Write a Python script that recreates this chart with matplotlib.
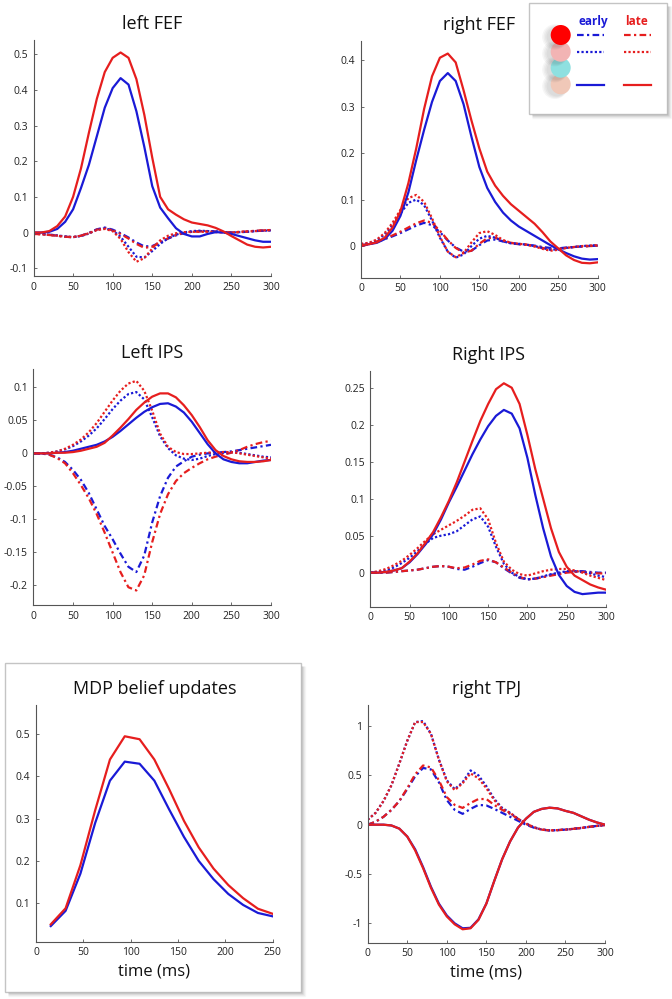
import numpy as np
import matplotlib
matplotlib.use("Agg")
import matplotlib.pyplot as plt
from matplotlib.patches import Circle, Rectangle
from matplotlib.ticker import FuncFormatter

plt.rcParams['font.family'] = ['Open Sans', 'DejaVu Sans']

BLUE = '#1a1ad6'
RED = '#e61e1e'

# ---------------- data ----------------
t = np.arange(0, 301, 10)

# left FEF
lf_early_solid = [0, 0, 0.002, 0.01, 0.03, 0.065, 0.125, 0.19, 0.27, 0.35, 0.405, 0.433, 0.415, 0.34, 0.24, 0.13,
                  0.07, 0.04, 0.012, -0.004, -0.011, -0.011, -0.004, 0.001, 0.0, -0.004, -0.01, -0.016, -0.022, -0.026, -0.026]
lf_late_solid = [0, 0, 0.004, 0.018, 0.045, 0.1, 0.18, 0.28, 0.375, 0.45, 0.49, 0.505, 0.49, 0.43, 0.33, 0.21,
                 0.1, 0.065, 0.05, 0.037, 0.028, 0.024, 0.02, 0.013, 0.003, -0.01, -0.022, -0.034, -0.04, -0.042, -0.04]
lf_early_dot = [-0.003, -0.004, -0.006, -0.008, -0.011, -0.013, -0.01, -0.003, 0.008, 0.012, 0.006, -0.012, -0.04, -0.068, -0.07, -0.052,
                -0.032, -0.016, -0.006, 0.0, 0.004, 0.005, 0.004, 0.003, 0.001, 0.0, 0.001, 0.002, 0.004, 0.005, 0.006]
lf_late_dot = [-0.004, -0.005, -0.007, -0.009, -0.012, -0.013, -0.009, -0.002, 0.007, 0.01, 0.004, -0.018, -0.055, -0.082, -0.072, -0.045,
               -0.022, -0.009, -0.002, 0.001, 0.002, 0.002, 0.002, 0.001, 0.0, 0.0, 0.002, 0.003, 0.004, 0.006, 0.007]
lf_early_dd = [-0.003, -0.004, -0.006, -0.009, -0.012, -0.013, -0.009, -0.001, 0.009, 0.014, 0.008, -0.002, -0.014, -0.028, -0.039, -0.038,
               -0.028, -0.017, -0.008, -0.002, 0.002, 0.004, 0.004, 0.003, 0.001, 0.0, 0.001, 0.002, 0.004, 0.005, 0.006]
lf_late_dd = [-0.004, -0.005, -0.007, -0.009, -0.012, -0.013, -0.009, -0.002, 0.008, 0.012, 0.006, -0.004, -0.017, -0.032, -0.043, -0.04,
              -0.028, -0.016, -0.007, -0.001, 0.002, 0.003, 0.003, 0.002, 0.001, 0.0, 0.001, 0.003, 0.005, 0.006, 0.007]

# right FEF
rf_early_solid = [0.002, 0.004, 0.007, 0.015, 0.033, 0.065, 0.115, 0.185, 0.25, 0.31, 0.355, 0.372, 0.355, 0.305, 0.235, 0.17,
                  0.125, 0.095, 0.072, 0.055, 0.042, 0.032, 0.022, 0.012, 0.002, -0.007, -0.015, -0.022, -0.027, -0.029, -0.028]
rf_late_solid = [0.002, 0.004, 0.008, 0.018, 0.04, 0.075, 0.135, 0.21, 0.295, 0.365, 0.405, 0.414, 0.395, 0.335, 0.27, 0.21,
                 0.16, 0.13, 0.108, 0.09, 0.076, 0.062, 0.048, 0.03, 0.01, -0.005, -0.02, -0.03, -0.036, -0.037, -0.035]
rf_early_dot = [0.004, 0.006, 0.012, 0.025, 0.045, 0.07, 0.093, 0.1, 0.088, 0.055, 0.018, -0.012, -0.025, -0.018, 0.0, 0.016,
                0.022, 0.018, 0.01, 0.006, 0.005, 0.003, 0.0, -0.004, -0.008, -0.007, -0.004, -0.002, 0.0, 0.001, 0.002]
rf_late_dot = [0.005, 0.007, 0.014, 0.028, 0.05, 0.078, 0.103, 0.11, 0.095, 0.06, 0.02, -0.012, -0.024, -0.015, 0.008, 0.028,
               0.032, 0.024, 0.013, 0.007, 0.005, 0.003, -0.001, -0.006, -0.01, -0.008, -0.004, -0.002, 0.0, 0.001, 0.002]
rf_early_dd = [0.0, 0.004, 0.009, 0.015, 0.021, 0.028, 0.036, 0.044, 0.05, 0.045, 0.03, 0.012, -0.003, -0.012, -0.01, 0.002,
               0.012, 0.014, 0.01, 0.006, 0.004, 0.003, 0.001, -0.002, -0.004, -0.005, -0.003, -0.002, -0.001, 0.0, 0.001]
rf_late_dd = [0.0, 0.004, 0.01, 0.016, 0.023, 0.031, 0.04, 0.049, 0.055, 0.05, 0.033, 0.013, -0.004, -0.014, -0.01, 0.005,
              0.017, 0.018, 0.012, 0.007, 0.004, 0.003, 0.0, -0.004, -0.007, -0.006, -0.004, -0.002, -0.001, 0.0, 0.001]

# left IPS
li_early_solid = [0, 0, 0.0, 0.001, 0.002, 0.004, 0.007, 0.01, 0.013, 0.018, 0.025, 0.034, 0.044, 0.054, 0.063, 0.07,
                  0.075, 0.076, 0.071, 0.062, 0.048, 0.031, 0.014, 0.0, -0.009, -0.013, -0.015, -0.015, -0.013, -0.011, -0.01]
li_late_solid = [0, 0, 0.0, 0.001, 0.001, 0.002, 0.004, 0.007, 0.01, 0.016, 0.027, 0.039, 0.052, 0.066, 0.077, 0.086,
                 0.091, 0.091, 0.085, 0.073, 0.058, 0.04, 0.02, 0.005, -0.004, -0.009, -0.012, -0.013, -0.013, -0.012, -0.01]
li_early_dot = [0, 0, 0.001, 0.003, 0.006, 0.011, 0.018, 0.027, 0.038, 0.052, 0.067, 0.08, 0.09, 0.093, 0.082, 0.055,
                0.026, 0.008, -0.003, -0.008, -0.01, -0.008, -0.004, -0.001, 0.001, 0.002, 0.001, -0.001, -0.003, -0.005, -0.006]
li_late_dot = [0, 0, 0.001, 0.003, 0.007, 0.013, 0.021, 0.032, 0.046, 0.063, 0.08, 0.095, 0.106, 0.11, 0.095, 0.065,
               0.03, 0.01, 0.002, -0.001, -0.001, 0.0, 0.001, 0.002, 0.002, 0.002, 0.0, -0.002, -0.004, -0.006, -0.008]
li_early_dd = [0, 0, -0.002, -0.006, -0.013, -0.025, -0.04, -0.06, -0.085, -0.11, -0.13, -0.152, -0.172, -0.18, -0.155, -0.105,
               -0.065, -0.037, -0.02, -0.012, -0.005, -0.002, 0.0, 0.001, 0.002, 0.003, 0.005, 0.007, 0.009, 0.011, 0.013]
li_late_dd = [0, 0, -0.002, -0.007, -0.015, -0.03, -0.048, -0.068, -0.092, -0.12, -0.15, -0.18, -0.203, -0.208, -0.185, -0.135,
              -0.092, -0.062, -0.042, -0.03, -0.022, -0.015, -0.009, -0.005, -0.002, 0.001, 0.005, 0.01, 0.014, 0.017, 0.019]

# right IPS
ri_early_solid = [0, 0, 0.001, 0.003, 0.006, 0.014, 0.025, 0.038, 0.052, 0.072, 0.095, 0.116, 0.138, 0.16, 0.18, 0.198,
                  0.212, 0.22, 0.215, 0.195, 0.155, 0.105, 0.06, 0.022, -0.003, -0.018, -0.026, -0.029, -0.028, -0.027, -0.027]
ri_late_solid = [0, 0, 0.001, 0.003, 0.006, 0.015, 0.026, 0.04, 0.055, 0.075, 0.097, 0.122, 0.15, 0.178, 0.205, 0.228,
                 0.248, 0.256, 0.25, 0.228, 0.186, 0.14, 0.1, 0.06, 0.028, 0.008, -0.004, -0.01, -0.016, -0.02, -0.023]
ri_early_dot = [0.0, 0.001, 0.003, 0.007, 0.013, 0.02, 0.029, 0.039, 0.047, 0.05, 0.052, 0.056, 0.064, 0.072, 0.076, 0.062,
                0.035, 0.012, 0.0, -0.006, -0.009, -0.008, -0.005, -0.002, 0.0, 0.002, 0.002, 0.001, -0.001, -0.004, -0.006]
ri_late_dot = [0.0, 0.002, 0.005, 0.01, 0.016, 0.024, 0.033, 0.043, 0.052, 0.058, 0.064, 0.07, 0.077, 0.085, 0.087, 0.072,
               0.04, 0.015, 0.004, -0.002, -0.004, -0.001, 0.002, 0.004, 0.005, 0.005, 0.003, 0.0, -0.004, -0.007, -0.01]
ri_early_dd = [0.0, 0.0, 0.0, 0.001, 0.002, 0.003, 0.004, 0.006, 0.008, 0.009, 0.008, 0.005, 0.004, 0.008, 0.013, 0.017,
               0.014, 0.006, -0.001, -0.007, -0.009, -0.008, -0.006, -0.003, -0.001, 0.001, 0.002, 0.002, 0.001, 0.0, 0.0]
ri_late_dd = [0.0, 0.0, 0.0, 0.001, 0.002, 0.003, 0.004, 0.006, 0.008, 0.009, 0.008, 0.006, 0.007, 0.011, 0.016, 0.018,
              0.014, 0.007, 0.0, -0.006, -0.009, -0.008, -0.006, -0.004, -0.002, 0.0, 0.001, 0.001, 0.0, -0.001, -0.001]

# right TPJ
tpj_early_solid = [0, 0, 0, -0.008, -0.04, -0.12, -0.25, -0.43, -0.63, -0.8, -0.92, -1.0, -1.05, -1.045, -0.96, -0.8,
                   -0.57, -0.35, -0.17, -0.03, 0.06, 0.13, 0.16, 0.172, 0.165, 0.14, 0.12, 0.085, 0.05, 0.022, 0.0]
tpj_late_solid = [0, 0, 0, -0.008, -0.04, -0.12, -0.26, -0.44, -0.64, -0.81, -0.93, -1.01, -1.06, -1.05, -0.965, -0.8,
                  -0.57, -0.35, -0.17, -0.03, 0.06, 0.13, 0.16, 0.172, 0.165, 0.14, 0.12, 0.085, 0.05, 0.022, 0.0]
tpj_early_dot = [0.05, 0.12, 0.24, 0.4, 0.62, 0.85, 1.04, 1.05, 0.92, 0.66, 0.45, 0.36, 0.43, 0.55, 0.5, 0.39,
                 0.26, 0.17, 0.12, 0.06, 0.01, -0.025, -0.05, -0.058, -0.055, -0.05, -0.042, -0.033, -0.022, -0.012, -0.005]
tpj_late_dot = [0.05, 0.12, 0.24, 0.4, 0.62, 0.85, 1.04, 1.04, 0.92, 0.66, 0.44, 0.35, 0.42, 0.52, 0.47, 0.37,
                0.25, 0.16, 0.12, 0.06, 0.01, -0.025, -0.05, -0.058, -0.055, -0.05, -0.042, -0.033, -0.022, -0.012, -0.005]
tpj_early_dd = [0.0, 0.03, 0.08, 0.15, 0.24, 0.36, 0.49, 0.575, 0.56, 0.43, 0.25, 0.15, 0.11, 0.16, 0.2, 0.195,
                0.16, 0.12, 0.08, 0.04, 0.0, -0.03, -0.05, -0.058, -0.055, -0.05, -0.042, -0.033, -0.022, -0.012, -0.005]
tpj_late_dd = [0.0, 0.03, 0.08, 0.15, 0.24, 0.37, 0.51, 0.6, 0.58, 0.45, 0.28, 0.2, 0.17, 0.22, 0.26, 0.26,
               0.2, 0.15, 0.11, 0.06, 0.015, -0.03, -0.05, -0.058, -0.055, -0.05, -0.042, -0.033, -0.022, -0.012, -0.005]

# MDP belief updates
t_mdp = [15.6, 31.25, 46.9, 62.5, 78.1, 93.75, 109.4, 125, 140.6, 156.25, 171.9, 187.5, 203.1, 218.75, 234.4, 250]
mdp_early = [0.046, 0.082, 0.17, 0.29, 0.39, 0.435, 0.43, 0.39, 0.322, 0.257, 0.2, 0.157, 0.122, 0.096, 0.077, 0.069]
mdp_late = [0.05, 0.088, 0.19, 0.32, 0.44, 0.495, 0.488, 0.44, 0.37, 0.295, 0.232, 0.182, 0.143, 0.112, 0.087, 0.075]

# ---------------- figure ----------------
W, H = 672, 999
fig = plt.figure(figsize=(W / 100, H / 100), dpi=100)

DOT = (0, (1, 1))
DASHDOT = (0, (3, 1.5, 1, 1.5))
LW = 1.6


def px_axes(l, r, top, bottom):
    return fig.add_axes([l / W, 1 - bottom / H, (r - l) / W, (bottom - top) / H])


def style(ax, title, xlim, ylim, yticks, xticks, xlabel=None):
    ax.set_xlim(*xlim)
    ax.set_ylim(*ylim)
    ax.set_yticks(yticks)
    ax.set_xticks(xticks)
    fmt = FuncFormatter(lambda v, p: f"{round(v, 4):g}")
    ax.yaxis.set_major_formatter(fmt)
    ax.xaxis.set_major_formatter(fmt)
    for s in ['top', 'right']:
        ax.spines[s].set_visible(False)
    for s in ['left', 'bottom']:
        ax.spines[s].set_color('#555555')
        ax.spines[s].set_linewidth(0.8)
    ax.tick_params(direction='in', length=2, width=0.6, color='#555555',
                   labelsize=7.5, labelcolor='#222222', pad=4)
    ax.set_title(title, fontsize=13, pad=8, color='#111111')
    if xlabel:
        ax.set_xlabel(xlabel, fontsize=12, labelpad=4, color='#111111')
    ax.patch.set_alpha(0)


def six(ax, es, ls, ed, ld, edd, ldd):
    kw = dict(lw=LW, solid_joinstyle='round', dash_joinstyle='round')
    ax.plot(t, edd, color=BLUE, ls=DASHDOT, **kw)
    ax.plot(t, ldd, color=RED, ls=DASHDOT, **kw)
    ax.plot(t, ed, color=BLUE, ls=DOT, **kw)
    ax.plot(t, ld, color=RED, ls=DOT, **kw)
    ax.plot(t, es, color=BLUE, **kw)
    ax.plot(t, ls, color=RED, **kw)


xt = [0, 50, 100, 150, 200, 250, 300]

ax1 = px_axes(33.5, 271, 40, 276)
six(ax1, lf_early_solid, lf_late_solid, lf_early_dot, lf_late_dot, lf_early_dd, lf_late_dd)
style(ax1, 'left FEF', (0, 300), (-0.122, 0.54), [-0.1, 0, 0.1, 0.2, 0.3, 0.4, 0.5], xt)

ax2 = px_axes(361, 597.7, 41, 277.7)
six(ax2, rf_early_solid, rf_late_solid, rf_early_dot, rf_late_dot, rf_early_dd, rf_late_dd)
style(ax2, 'right FEF', (0, 300), (-0.068, 0.441), [0, 0.1, 0.2, 0.3, 0.4], xt)

ax3 = px_axes(33.3, 271, 369, 605)
six(ax3, li_early_solid, li_late_solid, li_early_dot, li_late_dot, li_early_dd, li_late_dd)
style(ax3, 'Left IPS', (0, 300), (-0.23, 0.128), [-0.2, -0.15, -0.1, -0.05, 0, 0.05, 0.1], xt)

ax4 = px_axes(370.3, 606, 370.7, 606.7)
six(ax4, ri_early_solid, ri_late_solid, ri_early_dot, ri_late_dot, ri_early_dd, ri_late_dd)
style(ax4, 'Right IPS', (0, 300), (-0.046, 0.273), [0, 0.05, 0.1, 0.15, 0.2, 0.25], xt)

ax5 = px_axes(36, 272.7, 705, 941.7)
ax5.plot(t_mdp, mdp_early, color=BLUE, lw=LW)
ax5.plot(t_mdp, mdp_late, color=RED, lw=LW)
style(ax5, 'MDP belief updates', (0, 250), (0.009, 0.569), [0.1, 0.2, 0.3, 0.4, 0.5],
      [0, 50, 100, 150, 200, 250], xlabel='time (ms)')

ax6 = px_axes(367.7, 605, 705, 942.7)
six(ax6, tpj_early_solid, tpj_late_solid, tpj_early_dot, tpj_late_dot, tpj_early_dd, tpj_late_dd)
style(ax6, 'right TPJ', (0, 300), (-1.196, 1.213), [-1, -0.5, 0, 0.5, 1], xt, xlabel='time (ms)')

# ---------------- overlay (frames, legend) ----------------
ov = fig.add_axes([0, 0, 1, 1], zorder=10)
ov.set_xlim(0, W)
ov.set_ylim(H, 0)
ov.axis('off')
ov.patch.set_alpha(0)


def shadowed_box(x0, y0, w, h, fill):
    # soft shadow along right and bottom edges
    for i, a in enumerate([0.16, 0.10, 0.06, 0.03]):
        off = 1 + i
        ov.plot([x0 + w + off, x0 + w + off], [y0 + 3, y0 + h + off], color='black', alpha=a, lw=1.0,
                solid_capstyle='butt')
        ov.plot([x0 + 3, x0 + w + off], [y0 + h + off, y0 + h + off], color='black', alpha=a, lw=1.0,
                solid_capstyle='butt')
    ov.add_patch(Rectangle((x0, y0), w, h, facecolor=fill, edgecolor='#c4c4c4', lw=1.0))


# MDP panel frame
shadowed_box(5, 663, 296, 329, 'none')
# legend box
shadowed_box(529, 3, 138, 111, 'white')

circ_y = [84.3, 67.7, 51.7, 35]
circ_c = ['#f0c8b8', '#8fe0e0', '#f2b4b4', '#ff0000']
for y, c in zip(circ_y, circ_c):
    for k in range(4):
        ov.add_patch(Circle((560.7 - 4 - k * 0.6, y + 2), 10.0 + k * 0.9, facecolor='#303030',
                            edgecolor='none', alpha=0.045))
    ov.add_patch(Circle((560.7, y), 10, facecolor=c, edgecolor='none'))

ov.text(593, 21.5, 'early', color=BLUE, fontsize=8.5, fontweight='bold', ha='center', va='center')
ov.text(636.5, 21.5, 'late', color=RED, fontsize=8.5, fontweight='bold', ha='center', va='center')
leg_styles = [(35, DASHDOT), (52, DOT), (85, '-')]
for y, ls in leg_styles:
    ov.plot([576.7, 604], [y, y], color=BLUE, lw=LW, ls=ls)
    ov.plot([624, 651], [y, y], color=RED, lw=LW, ls=ls)

fig.savefig('out.png', dpi=100)
